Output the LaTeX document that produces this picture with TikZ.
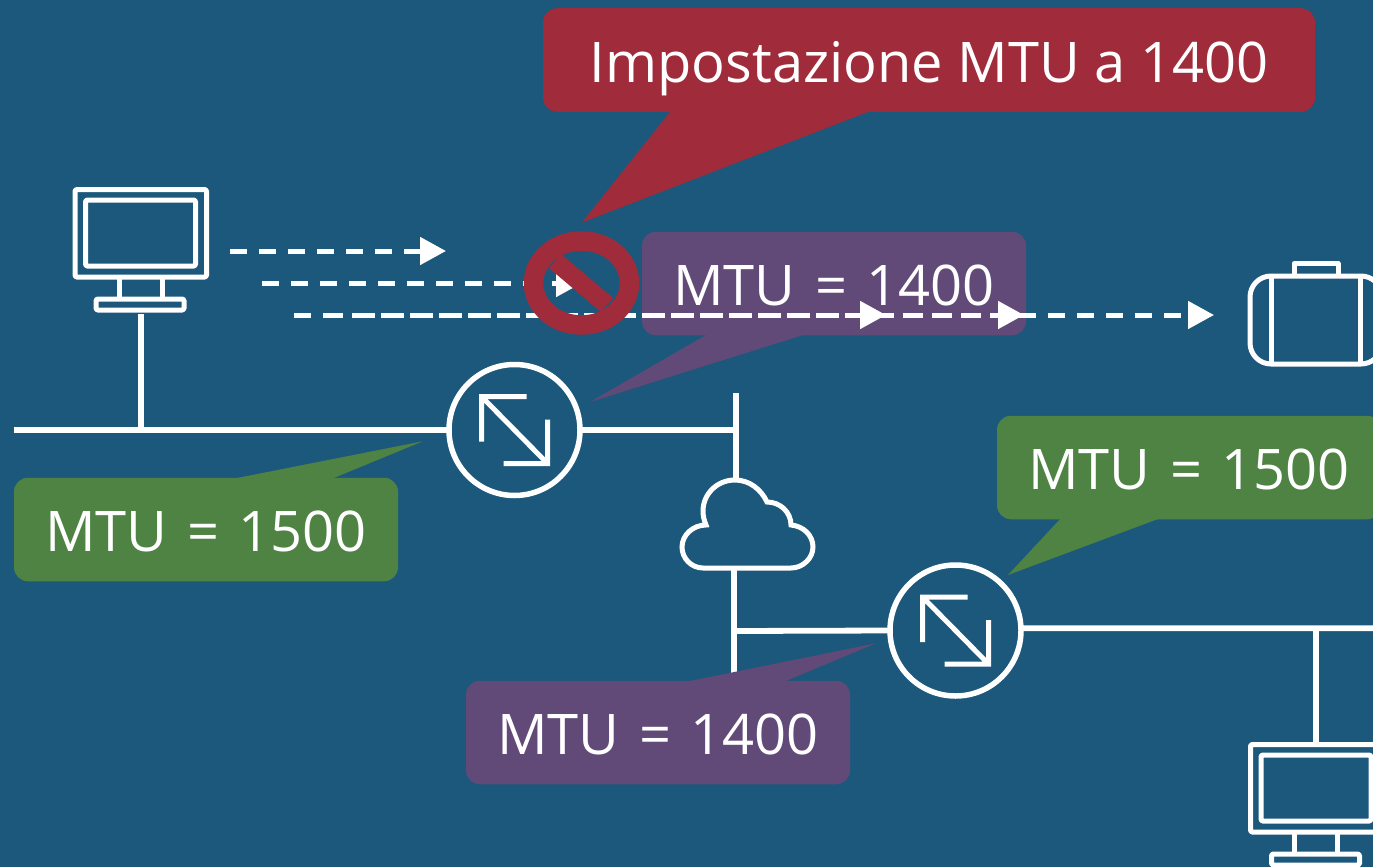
\documentclass[tikz,border=0pt]{standalone}
\usepackage{fontspec}
\setmainfont{Open Sans}
\usetikzlibrary{arrows.meta}
\definecolor{bgblue}{HTML}{1C587B}
\definecolor{mtured}{HTML}{A02B3A}
\definecolor{mtupurple}{HTML}{614A78}
\definecolor{mtugreen}{HTML}{4F8343}
\newcommand{\mtulabel}[1]{\spaceskip=19.6pt\relax #1}
\tikzset{
  x=1pt,y=-1pt,
  wire/.style={draw=white,line width=5.8pt},
  icon/.style={draw=white,line width=5pt,rounded corners=1.5pt,line join=round},
  bubble/.style={rectangle,rounded corners=14pt,text=white,inner sep=0pt,
    text height=44.5pt,text depth=0pt,
    minimum width=384pt,minimum height=103.5pt,
    font=\fontsize{56}{60}\selectfont},
  router/.style={circle,draw=white,line width=5.5pt,minimum size=131pt,inner sep=0pt,outer sep=0pt},
  flow/.style={draw=white,line width=5pt,dash pattern=on 17pt off 12pt,
    -{Triangle[length=26pt,width=27pt,fill=white]}},
  computer/.pic={
    \draw[icon] (-66,-66.5) rectangle (65.5,21);
    \draw[icon] (-55.5,-56) rectangle (54.5,10);
    \draw[icon,rounded corners=0pt] (-22,21) -- (-22,43) (21,21) -- (21,43);
    \draw[icon] (-45,43) rectangle (43,54);
  },
  updown/.pic={
    \draw[draw=white,line width=5pt,line join=miter]
      (12,-33.5) -- (-33,-33.5) -- (-33,11.5)
      (-11,33.5) -- (33,33.5) -- (33,-10.5)
      (-33,-33.5) -- (33,33.5);
  }
}
\begin{document}
\begin{tikzpicture}
\useasboundingbox (0,0) rectangle (1373,867);
\clip (0,0) rectangle (1373,867);
\fill[bgblue] (0,0) rectangle (1373,867);

% free ends of the wires
\coordinate (busW) at (14,430);
\coordinate (busA) at (141,430);
\coordinate (pcAfoot) at (141,314);
\coordinate (teeTop) at (736,393);
\coordinate (teeMid) at (736,430);
\coordinate (cloudTop) at (736,480);
\coordinate (cloudBot) at (734,570);
\coordinate (teeLow) at (734,631);
\coordinate (teeEnd) at (734,690);
\coordinate (busE) at (1380,628.2);
\coordinate (busB) at (1316,628.2);
\coordinate (pcBtop) at (1316,744);

% routers
\node[router] (r1) at (514.5,430) {};
\node[router] (r2) at (955.5,630.5) {};
\pic at (r1.center) {updown};
\pic at (r2.center) {updown};

% wires
\draw[wire] (busW) -- (r1.west);
\draw[wire] (pcAfoot) -- (busA);
\draw[wire] (r1.east) -- (teeMid);
\draw[wire] (teeTop) -- (cloudTop);
\draw[wire] (cloudBot) -- (teeEnd);
\draw[wire] (teeLow) -- (r2.west);
\draw[wire] (r2.2) -- (busE);
\draw[wire] (busB) -- (pcBtop);

% computers
\pic at (141,256) {computer};
\pic at (1316.5,811) {computer};

% cloud
\draw[icon,rounded corners=0pt,line join=miter]
  (703,568) .. controls (691,568) and (682,558) .. (682,547)
  .. controls (682,535) and (693,525) .. (706,525)
  .. controls (704,520) and (703,516) .. (703,511)
  .. controls (703,494) and (717,480) .. (735,480)
  .. controls (749,480) and (761,489) .. (767,502)
  .. controls (780,502) and (791,512) .. (791,525)
  .. controls (803,526) and (813,535) .. (813,547)
  .. controls (813,558) and (803,568) .. (791,568) -- cycle;

% briefcase
\draw[icon,rounded corners=0pt] (1294,275) -- (1294,263.5) -- (1338,263.5) -- (1338,275);
\draw[icon,rounded corners=21pt] (1250,276) rectangle (1382,364);
\draw[icon,rounded corners=0pt] (1271.5,276) -- (1271.5,364) (1360,276) -- (1360,364);

% speech bubbles
\fill[mtured] (671.6,110) -- (582,222.5) -- (873,110) -- cycle;
\node[bubble,fill=mtured,minimum width=772pt] (bRed) at (929,60) {Impostazione MTU a 1400};

\fill[mtupurple] (709.5,333) -- (590,402) -- (809.4,333) -- cycle;
\node[bubble,fill=mtupurple] (bP1) at (834,283.5) {\mtulabel{MTU = 1400}};

\fill[mtugreen] (227,480) -- (422.7,441.3) -- (329,480) -- cycle;
\node[bubble,fill=mtugreen] (bG1) at (206,529.5) {\mtulabel{MTU = 1500}};

\fill[mtupurple] (680,683) -- (876,643.3) -- (781,683) -- cycle;
\node[bubble,fill=mtupurple] (bP2) at (658,732.5) {\mtulabel{MTU = 1400}};

\fill[mtugreen] (1062,517) -- (1008,575) -- (1163.4,517) -- cycle;
\node[bubble,fill=mtugreen] (bG2) at (1189,467.5) {\mtulabel{MTU = 1500}};

% dashed flows
\coordinate (f1s) at (230,251);
\coordinate (f1e) at (446,251);
\coordinate (f2s) at (262,283);
\coordinate (f2e) at (582,283);
\coordinate (f3s) at (294,315);
\coordinate (f4s) at (326,315);
\coordinate (f5s) at (358,315);
\coordinate (f5e) at (886,315);
\coordinate (f4e) at (1024,315);
\coordinate (f3e) at (1214,315);
\draw[flow] (f1s) -- (f1e);
\draw[flow] (f2s) -- (f2e);
\draw[flow] (f3s) -- (f3e);
\draw[flow] (f4s) -- (f4e);
\draw[flow] (f5s) -- (f5e);

% prohibition sign
\draw[mtured,line width=18.5pt] (555,261) -- (607,305);
\draw[mtured,line width=19.5pt] (581.5,283) ellipse [x radius=48,y radius=42];
\end{tikzpicture}
\end{document}
